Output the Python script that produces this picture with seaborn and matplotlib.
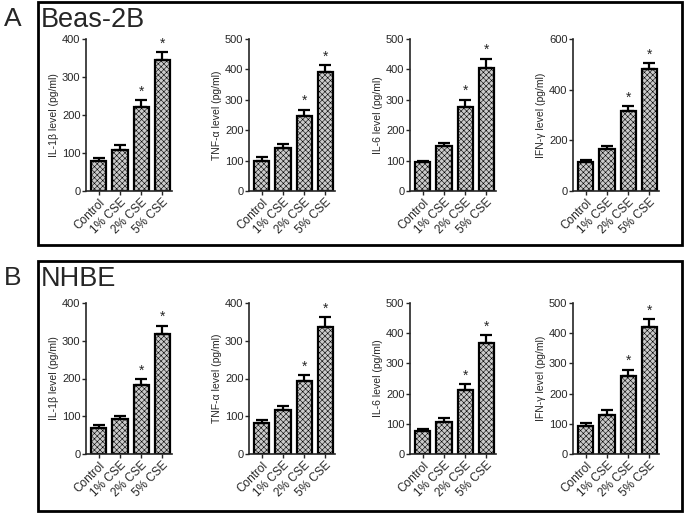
"""
Cytokine levels in Beas-2B and NHBE cells after CSE exposure.
Two boxed panels, four bar charts each (Prism style).
"""

import numpy as np
import pandas as pd
import matplotlib
matplotlib.use('Agg')
import matplotlib.pyplot as plt
from matplotlib.patches import Rectangle
import seaborn as sns

sns.set_style('ticks')
plt.rcParams['font.family'] = ['Liberation Sans', 'DejaVu Sans']
plt.rcParams['hatch.linewidth'] = 0.4

groups = ['Control', '1% CSE', '2% CSE', '5% CSE']
cytokines = ['IL-1β', 'TNF-α', 'IL-6', 'IFN-γ']
ylabels = ['IL-1β level (pg/ml)', 'TNF-α level (pg/ml)',
           'IL-6 level (pg/ml)', 'IFN-γ level (pg/ml)']

# panel A: Beas-2B
beas_mean = {
    'IL-1β': [80, 107, 222, 345],
    'TNF-α': [100, 140, 248, 390],
    'IL-6': [94, 147, 276, 405],
    'IFN-γ': [116, 165, 315, 480],
}
beas_sem = {
    'IL-1β': [8, 13, 17, 20],
    'TNF-α': [12, 15, 20, 24],
    'IL-6': [6, 12, 24, 30],
    'IFN-γ': [7, 14, 20, 25],
}
beas_ymax = [400, 500, 500, 600]
beas_ystep = [100, 100, 100, 200]

# panel B: NHBE
nhbe_mean = {
    'IL-1β': [70, 92, 182, 317],
    'TNF-α': [83, 116, 194, 336],
    'IL-6': [77, 107, 212, 367],
    'IFN-γ': [92, 130, 259, 420],
}
nhbe_sem = {
    'IL-1β': [7, 9, 16, 23],
    'TNF-α': [8, 11, 15, 27],
    'IL-6': [7, 13, 19, 27],
    'IFN-γ': [10, 15, 20, 26],
}
nhbe_ymax = [400, 400, 500, 500]
nhbe_ystep = [100, 100, 100, 100]

significant = [False, False, True, True]

W, H = 685, 514
fig = plt.figure(figsize=(W / 100, H / 100), dpi=100)

ax_left_px = [86, 249, 410, 573]
ax_width_px = 86


def px_rect(x0, y0, x1, y1):
    """pixel box (top-left origin) -> figure fraction [l, b, w, h]"""
    return [x0 / W, 1 - y1 / H, (x1 - x0) / W, (y1 - y0) / H]


def draw_bars(ax, means, sems, ymax, ystep, ylabel):
    df = pd.DataFrame({'group': groups, 'value': means})
    sns.barplot(data=df, x='group', y='value', ax=ax, color='#cacaca',
                edgecolor='black', linewidth=1.6, hatch='xxxxxx',
                width=0.72, errorbar=None)
    x = np.arange(len(groups))
    ax.errorbar(x, means, yerr=[np.zeros(len(means)), sems], fmt='none',
                ecolor='black', elinewidth=1.6, capsize=4, capthick=1.6)
    for xi, m, s, sig in zip(x, means, sems, significant):
        if sig:
            ax.text(xi, m + s + ymax * 0.01, '*', ha='center', va='bottom',
                    fontsize=10)
    ax.set_ylim(0, ymax)
    ax.set_xlim(-0.6, 3.45)
    ax.set_yticks(np.arange(0, ymax + 1, ystep))
    ax.set_xlabel('')
    ax.set_ylabel(ylabel, fontsize=7.5, labelpad=2)
    ax.tick_params(axis='y', labelsize=8, length=3, width=1, pad=1)
    ax.tick_params(axis='x', labelsize=8.5, length=3, width=1, pad=1)
    plt.setp(ax.get_xticklabels(), rotation=45, ha='right',
             rotation_mode='anchor')
    sns.despine(ax=ax)
    for sp in ['left', 'bottom']:
        ax.spines[sp].set_linewidth(1.2)
    ax.patch.set_alpha(0)


panels = [
    ('A', 'Beas-2B', beas_mean, beas_sem, beas_ymax, beas_ystep,
     (38, 2, 682, 245), 39, 191),
    ('B', 'NHBE', nhbe_mean, nhbe_sem, nhbe_ymax, nhbe_ystep,
     (38, 261, 682, 511), 303, 454),
]

for letter, cell, means, sems, ymaxes, ysteps, box, ytop, ybot in panels:
    bx0, by0, bx1, by1 = box
    fig.patches.append(Rectangle((bx0 / W, 1 - by1 / H), (bx1 - bx0) / W,
                                 (by1 - by0) / H, transform=fig.transFigure,
                                 fill=False, edgecolor='black', linewidth=2))
    fig.text(4 / W, 1 - (by0 + 17) / H, letter, fontsize=19, va='center',
             ha='left')
    fig.text((bx0 + 3) / W, 1 - (by0 + 18) / H, cell, fontsize=19.5,
             va='center', ha='left')
    for i, cyto in enumerate(cytokines):
        x0 = ax_left_px[i]
        ax = fig.add_axes(px_rect(x0, ytop, x0 + ax_width_px, ybot))
        draw_bars(ax, means[cyto], sems[cyto], ymaxes[i], ysteps[i],
                  ylabels[i])

fig.savefig('out.png', dpi=100)
